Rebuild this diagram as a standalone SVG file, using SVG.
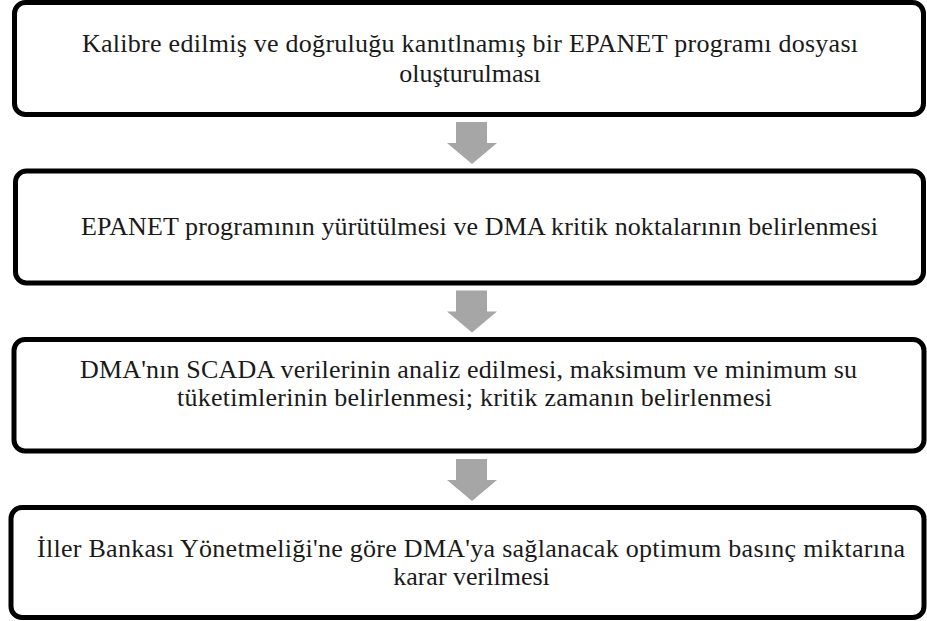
<svg xmlns="http://www.w3.org/2000/svg" width="927" height="621" viewBox="0 0 927 621">
<defs>
<polygon id="arrow" points="-16,0 15,0 15,21 25,21 0,42 -25,21 -16,21" fill="#a6a6a6"/>
</defs>
<rect width="927" height="621" fill="#ffffff"/>
<g id="connectors">
<use href="#arrow" x="472" y="122"/>
<use href="#arrow" x="472" y="290.5"/>
<use href="#arrow" x="472" y="459"/>
</g>
<g id="node1">
<rect x="14.5" y="2.5" width="909" height="112" rx="11" fill="#ffffff" stroke="#000000" stroke-width="5"/>
<text style="font-family:'Liberation Serif',serif !important" font-family="Liberation Serif" font-size="26" fill="#1a1a1a" x="82" y="52" textLength="776" lengthAdjust="spacing">Kalibre edilmiş ve doğruluğu kanıtlnamış bir EPANET programı dosyası</text>
<text style="font-family:'Liberation Serif',serif !important" font-family="Liberation Serif" font-size="26" fill="#1a1a1a" text-anchor="middle" x="470" y="82">oluşturulması</text>
</g>
<g id="node2">
<rect x="15.5" y="171" width="908" height="112" rx="11" fill="#ffffff" stroke="#000000" stroke-width="5"/>
<text style="font-family:'Liberation Serif',serif !important" font-family="Liberation Serif" font-size="26" fill="#1a1a1a" x="81" y="235" textLength="797" lengthAdjust="spacing">EPANET programının yürütülmesi ve DMA kritik noktalarının belirlenmesi</text>
</g>
<g id="node3">
<rect x="14" y="339.5" width="910" height="111.5" rx="11" fill="#ffffff" stroke="#000000" stroke-width="5"/>
<text style="font-family:'Liberation Serif',serif !important" font-family="Liberation Serif" font-size="26" fill="#1a1a1a" x="80" y="378" textLength="777" lengthAdjust="spacing">DMA'nın SCADA verilerinin analiz edilmesi, maksimum ve minimum su</text>
<text style="font-family:'Liberation Serif',serif !important" font-family="Liberation Serif" font-size="26" fill="#1a1a1a" x="177" y="406" textLength="595" lengthAdjust="spacing">tüketimlerinin belirlenmesi; kritik zamanın belirlenmesi</text>
</g>
<g id="node4">
<rect x="11" y="507.5" width="913" height="110" rx="11" fill="#ffffff" stroke="#000000" stroke-width="5"/>
<text style="font-family:'Liberation Serif',serif !important" font-family="Liberation Serif" font-size="26" fill="#1a1a1a" x="37" y="557" textLength="868" lengthAdjust="spacing">İller Bankası Yönetmeliği'ne göre DMA'ya sağlanacak optimum basınç miktarına</text>
<text style="font-family:'Liberation Serif',serif !important" font-family="Liberation Serif" font-size="26" fill="#1a1a1a" text-anchor="middle" x="471.5" y="585">karar verilmesi</text>
</g>
</svg>
